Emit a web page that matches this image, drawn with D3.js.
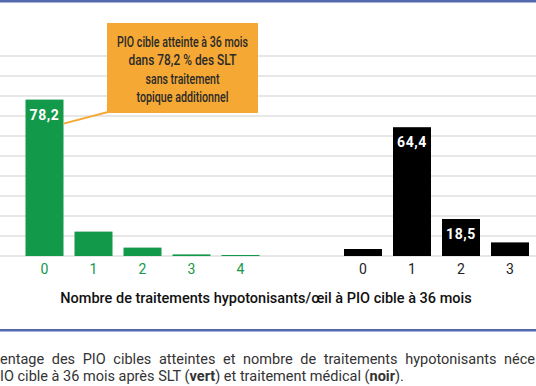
<!DOCTYPE html>
<html>
<head>
<meta charset="utf-8">
<script src="https://cdn.jsdelivr.net/npm/d3@7"></script>
<style>
  body { margin: 0; background: #fff; }
  svg { display: block; }
</style>
</head>
<body>
<svg id="chart" width="536" height="386"></svg>
<script>
// data
var sltCounts = ["0", "1", "2", "3", "4"]
var sltValues = [78.2, 12.2, 4.2, 0.8, 0.5]
var medCounts = ["0", "1", "2", "3"]
var medValues = [3.5, 64.4, 18.5, 6.8]
var labelled = { slt: [0], med: [1, 2] }
var yTicks = [0, 10, 20, 30, 40, 50, 60, 70, 80, 90, 100]
var xTitle = "Nombre de traitements hypotonisants/œil à PIO cible à 36 mois"
var calloutLines = ["PIO cible atteinte à 36 mois", "dans 78,2 % des SLT", "sans traitement", "topique additionnel"]
var captionLine1 = "entage des PIO cibles atteintes et nombre de traitements hypotonisants néce"
var captionLine2 = [["IO cible à 36 mois après SLT (", false], ["vert", true], [") et traitement médical (", false], ["noir", true], [").", false]]

var green = "#12994a"
var orange = "#f5a833"
var blue = "#5468b0"

var svg = d3.select("#chart")
var y0 = 256

// slot index scale: green bars in slots 0..4, black bars in slots 6.5..9.5
var x = d3.scaleLinear().domain([0, 1]).range([44.5, 93.5])
var barWidth = 38
var y = d3.scaleLinear().domain([0, 100]).range([y0, 56])

var fmt = function(v) { return String(v).replace(".", ",") }

// top blue rule
svg.append("rect").attr("x", 0).attr("y", 0).attr("width", 536).attr("height", 2.5).attr("fill", blue)

// gridlines
svg.append("g").selectAll("line")
    .data(yTicks).enter()
    .append("line")
    .attr("x1", 0).attr("x2", 536)
    .attr("y1", function(d) { return y(d) }).attr("y2", function(d) { return y(d) })
    .attr("stroke", "#cfcfcf").attr("stroke-width", 1.2)

var series = [
    { key: "slt", cats: sltCounts, vals: sltValues, offset: 0, color: green, tick: green },
    { key: "med", cats: medCounts, vals: medValues, offset: 6.5, color: "#000", tick: "#222" }
]

series.forEach(function(s) {
    var rows = s.vals.map(function(v, i) { return { v: v, i: i, cat: s.cats[i] } })
    var g = svg.append("g").classed("barGroup", true)

    g.selectAll("rect").data(rows).enter()
        .append("rect")
        .attr("x", function(d) { return x(d.i + s.offset) - barWidth / 2 })
        .attr("y", function(d) { return y(d.v) })
        .attr("width", barWidth)
        .attr("height", function(d) { return y0 - y(d.v) })
        .attr("fill", s.color)

    g.selectAll("text.tick").data(rows).enter()
        .append("text")
        .attr("class", "tick")
        .attr("x", function(d) { return x(d.i + s.offset) })
        .attr("y", 274)
        .attr("text-anchor", "middle")
        .attr("font-family", "Roboto, sans-serif")
        .attr("font-size", 14)
        .attr("fill", s.tick)
        .text(function(d) { return d.cat })

    g.selectAll("text.val").data(rows.filter(function(d) { return labelled[s.key].indexOf(d.i) >= 0 })).enter()
        .append("text")
        .attr("class", "val")
        .attr("x", function(d) { return x(d.i + s.offset) })
        .attr("y", function(d) { return y(d.v) + 20 })
        .attr("text-anchor", "middle")
        .attr("font-family", "Roboto, sans-serif")
        .attr("font-weight", "bold")
        .attr("font-size", 14)
        .attr("letter-spacing", 0.6)
        .attr("fill", "#fff")
        .text(function(d) { return fmt(d.v) })
})

// callout (text squeezed to a condensed look)
var box = { x: 107, y: 23, w: 151, h: 90 }
var calloutWidths = [131, 108, 74, 92]
svg.append("line")
    .attr("x1", x(0) + barWidth / 2).attr("y1", y(sltValues[0]) + 24)
    .attr("x2", box.x + 1).attr("y2", box.y + box.h - 1)
    .attr("stroke", orange).attr("stroke-width", 2)
svg.append("rect")
    .attr("x", box.x).attr("y", box.y).attr("width", box.w).attr("height", box.h)
    .attr("fill", orange)
svg.append("g").selectAll("text")
    .data(calloutLines).enter()
    .append("text")
    .attr("x", box.x + box.w / 2)
    .attr("y", function(d, i) { return 47 + i * 18.3 })
    .attr("text-anchor", "middle")
    .attr("font-family", "Roboto, sans-serif")
    .attr("font-weight", 500)
    .attr("font-size", 14.5)
    .attr("textLength", function(d, i) { return calloutWidths[i] })
    .attr("lengthAdjust", "spacingAndGlyphs")
    .attr("fill", "#2a2a2a")
    .text(function(d) { return d })

// x title
svg.append("text")
    .attr("x", 266).attr("y", 303)
    .attr("text-anchor", "middle")
    .attr("font-family", "Roboto, sans-serif")
    .attr("font-weight", 500)
    .attr("font-size", 14.5)
    .attr("fill", "#111")
    .text(xTitle)

// bottom blue rule
svg.append("rect").attr("x", 0).attr("y", 329).attr("width", 536).attr("height", 2.5).attr("fill", blue)

// caption, line 1 justified across the full width
var words = captionLine1.split(" ")
var cap = svg.append("g")
var wordNodes = cap.selectAll("text").data(words).enter()
    .append("text")
    .attr("y", 364)
    .attr("font-family", "Roboto, sans-serif")
    .attr("font-size", 14.5)
    .attr("fill", "#333")
    .text(function(d) { return d })
var widths = []
wordNodes.each(function() { widths.push(this.getComputedTextLength()) })
var total = d3.sum(widths)
var gap = (535 - total) / (words.length - 1)
var cx = 0
wordNodes.attr("x", function(d, i) { var p = cx; cx += widths[i] + gap; return p })

var line2 = svg.append("text")
    .attr("x", 0).attr("y", 381)
    .attr("font-family", "Roboto, sans-serif")
    .attr("font-size", 14.5)
    .attr("fill", "#333")
captionLine2.forEach(function(p) {
    line2.append("tspan").attr("font-weight", p[1] ? "bold" : "normal").text(p[0])
})
</script>
</body>
</html>
